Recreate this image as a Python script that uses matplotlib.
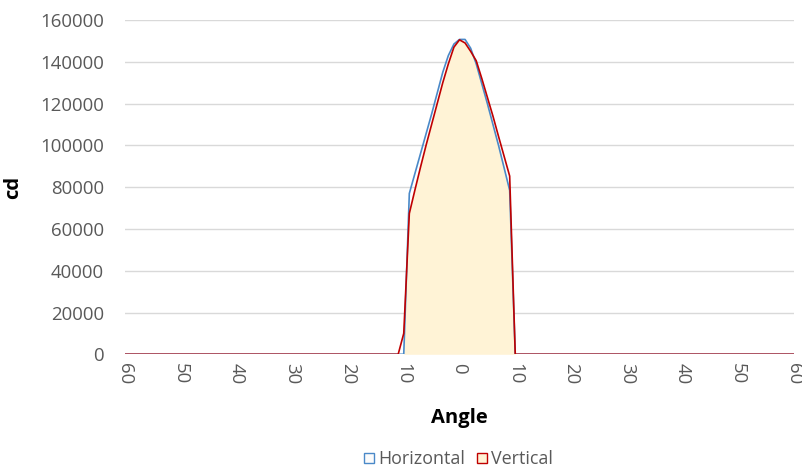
import matplotlib
matplotlib.use("Agg")
import matplotlib.pyplot as plt
from matplotlib.lines import Line2D
import numpy as np

plt.rcParams['font.family'] = ['Open Sans', 'DejaVu Sans']

angles = list(range(-60, 61))
horizontal = [
    0, 0, 0, 0, 0, 0, 0, 0, 0, 0,          # -60..-51
    0, 0, 0, 0, 0, 0, 0, 0, 0, 0,          # -50..-41
    0, 0, 0, 0, 0, 0, 0, 0, 0, 0,          # -40..-31
    0, 0, 0, 0, 0, 0, 0, 0, 0, 0,          # -30..-21
    0, 0, 0, 0, 0, 0, 0, 0, 0, 0,          # -20..-11
    0,                                      # -10
    77000, 86500, 96000, 105500, 115000, 125000, 135000, 143000, 148500,  # -9..-1
    150700,                                 # 0
    150700, 146500, 139000, 129500, 120000, 110000, 100000, 89250, 78500,  # 1..9
    0,                                      # 10
    0, 0, 0, 0, 0, 0, 0, 0, 0, 0,          # 11..20
    0, 0, 0, 0, 0, 0, 0, 0, 0, 0,          # 21..30
    0, 0, 0, 0, 0, 0, 0, 0, 0, 0,          # 31..40
    0, 0, 0, 0, 0, 0, 0, 0, 0, 0,          # 41..50
    0, 0, 0, 0, 0, 0, 0, 0, 0, 0,          # 51..60
]
vertical = [
    0, 0, 0, 0, 0, 0, 0, 0, 0, 0,          # -60..-51
    0, 0, 0, 0, 0, 0, 0, 0, 0, 0,          # -50..-41
    0, 0, 0, 0, 0, 0, 0, 0, 0, 0,          # -40..-31
    0, 0, 0, 0, 0, 0, 0, 0, 0, 0,          # -30..-21
    0, 0, 0, 0, 0, 0, 0, 0, 0, 0,          # -20..-11
    10000,                                  # -10
    67400, 78600, 89500, 100000, 110000, 120000, 130000, 139000, 147000,  # -9..-1
    150500,                                 # 0
    149000, 145000, 140500, 132000, 123000, 114000, 104300, 94800, 85300,  # 1..9
    0,                                      # 10
    0, 0, 0, 0, 0, 0, 0, 0, 0, 0,          # 11..20
    0, 0, 0, 0, 0, 0, 0, 0, 0, 0,          # 21..30
    0, 0, 0, 0, 0, 0, 0, 0, 0, 0,          # 31..40
    0, 0, 0, 0, 0, 0, 0, 0, 0, 0,          # 41..50
    0, 0, 0, 0, 0, 0, 0, 0, 0, 0,          # 51..60
]
x_ticks = [-60, -50, -40, -30, -20, -10, 0, 10, 20, 30, 40, 50, 60]
x_tick_labels = ["60", "50", "40", "30", "20", "10", "0", "10", "20", "30", "40", "50", "60"]
y_ticks = [0, 20000, 40000, 60000, 80000, 100000, 120000, 140000, 160000]

blue = "#4A89C8"
red = "#C00000"
fill = "#FFF3D6"
gray = "#595959"

fig = plt.figure(figsize=(8.02, 4.70), dpi=100)
ax = fig.add_axes([125 / 802, 1 - 354.3 / 470, (794 - 125) / 802, (354.3 - 20) / 470])

h = np.array(horizontal)
v = np.array(vertical)
ax.fill_between(angles, 0, np.minimum(h, v), color=fill, linewidth=0, zorder=1)
ax.plot(angles, horizontal, color=blue, lw=1.2, zorder=3)
ax.plot(angles, vertical, color=red, lw=1.2, zorder=4)

ax.set_xlim(-60, 60)
ax.set_ylim(0, 160000)
ax.set_yticks(y_ticks)
ax.set_yticklabels([str(t) for t in y_ticks], color=gray, fontsize=13.4)
ax.set_xticks(x_ticks)
ax.set_xticklabels(x_tick_labels, rotation=-90, color=gray, fontsize=13.4)
ax.tick_params(axis='both', length=0)
ax.tick_params(axis='y', pad=15)
ax.tick_params(axis='x', pad=6)
ax.grid(axis='y', color="#D9D9D9", lw=1)
ax.set_axisbelow(True)
for s in ax.spines.values():
    s.set_visible(False)

ax.set_ylabel("cd", fontsize=14.5, fontweight='bold', labelpad=12)
ax.set_xlabel("Angle", fontsize=14.5, fontweight='bold', labelpad=17)

handles = [
    Line2D([], [], marker='s', linestyle='none', markersize=7.5, markerfacecolor='#FBFBFB',
           markeredgecolor=blue, markeredgewidth=1),
    Line2D([], [], marker='s', linestyle='none', markersize=7.5, markerfacecolor=fill,
           markeredgecolor=red, markeredgewidth=1),
]
fig.legend(handles, ["Horizontal", "Vertical"], loc='center', bbox_to_anchor=(457 / 802, 1 - 459 / 470),
           ncol=2, frameon=False, handletextpad=0.05, columnspacing=0.5, handlelength=0.9,
           prop={'size': 12.9}, labelcolor=gray)

fig.savefig("out.png", dpi=100)
